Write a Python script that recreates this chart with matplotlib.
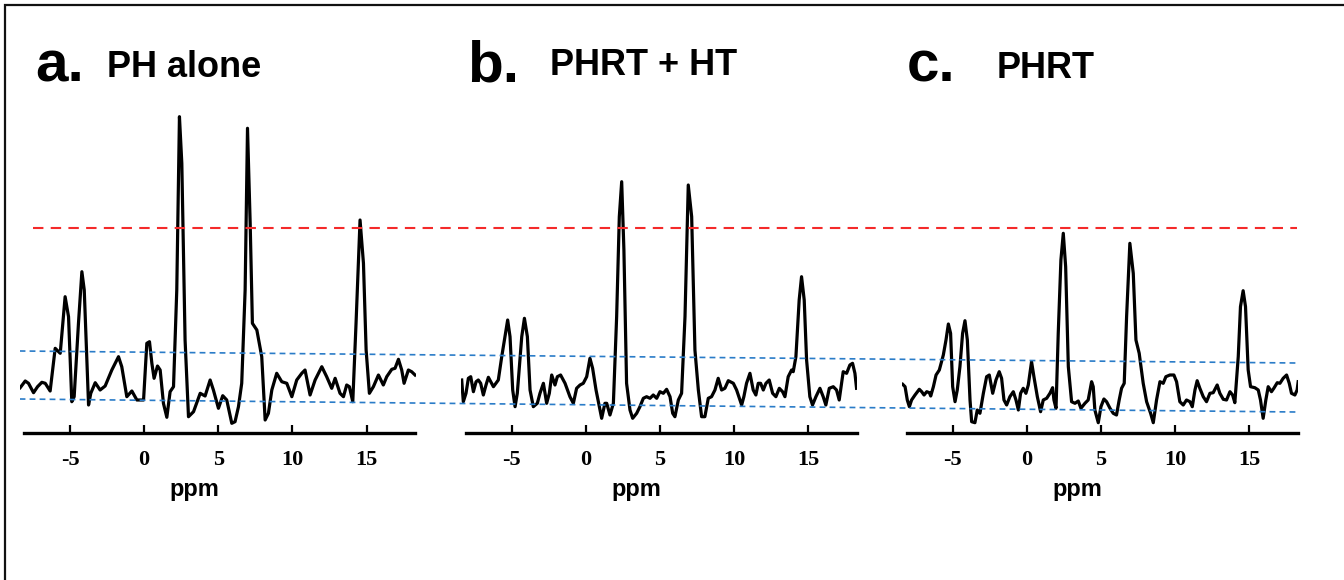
import numpy as np
import matplotlib
matplotlib.use("Agg")
import matplotlib.pyplot as plt
from matplotlib.patches import Rectangle

# spectra (ppm, intensity in a.u.)
ppm_a = [-8.36, -8.02, -7.80, -7.46, -7.19, -6.90, -6.67, -6.34, -6.00, -5.66, -5.33, -5.10,
         -4.88, -4.72, -4.43, -4.20, -4.04, -3.75, -3.60, -3.30, -2.97, -2.63, -2.18, -1.73,
         -1.51, -1.17, -0.83, -0.49, -0.04, 0.18, 0.36, 0.52, 0.67, 0.90, 1.08, 1.30, 1.53,
         1.75, 1.98, 2.20, 2.38, 2.54, 2.76, 2.99, 3.33, 3.78, 4.11, 4.45, 4.67, 5.01, 5.30,
         5.57, 5.91, 6.13, 6.36, 6.58, 6.81, 6.97, 7.15, 7.30, 7.60, 7.93, 8.16, 8.38, 8.61,
         8.94, 9.28, 9.62, 9.96, 10.29, 10.63, 10.85, 11.19, 11.53, 11.98, 12.31, 12.65,
         12.88, 13.21, 13.44, 13.66, 13.84, 14.07, 14.29, 14.56, 14.79, 14.97, 15.19, 15.46,
         15.80, 16.13, 16.36, 16.70, 16.92, 17.15, 17.37, 17.53, 17.82, 18.04, 18.27]
int_a = [45.3, 52.0, 49.7, 40.3, 46.3, 50.7, 49.7, 42.0, 84.7, 79.7, 136.3, 116.3,
         31.3, 36.3, 109.7, 161.3, 143.0, 28.0, 39.7, 50.3, 43.0, 47.0, 63.0, 76.3,
         66.3, 36.3, 42.0, 33.0, 33.0, 89.7, 91.3, 69.7, 54.7, 67.0, 63.0, 29.7, 15.7,
         41.3, 46.3, 143.0, 316.3, 269.7, 93.0, 16.3, 21.3, 39.7, 37.0, 53.0, 43.0, 24.7, 37.3,
         33.0, 9.7, 11.3, 26.3, 49.7, 143.0, 304.7, 209.7, 109.7, 103.0, 76.3, 13.0, 19.7, 43.0,
         59.7, 51.3, 49.7, 36.3, 53.0, 59.7, 63.0, 38.0, 53.0, 66.3, 56.3, 44.7,
         54.7, 39.7, 36.3, 48.0, 46.3, 31.3, 109.7, 213.0, 169.7, 83.0, 39.7, 46.3,
         58.0, 48.0, 56.3, 63.7, 64.7, 73.7, 63.0, 49.7, 63.0, 61.3, 58.0]

ppm_b = [-8.36, -8.25, -8.07, -7.91, -7.75, -7.57, -7.39, -7.24, -7.08, -6.90, -6.72, -6.56,
         -6.40, -6.22, -5.89, -5.66, -5.44, -5.26, -5.10, -4.92, -4.76, -4.61, -4.31, -4.13,
         -3.93, -3.75, -3.53, -3.26, -3.08, -2.85, -2.63, -2.45, -2.29, -2.07, -1.91, -1.69,
         -1.39, -1.06, -0.83, -0.61, -0.38, -0.16, 0.07, 0.29, 0.47, 0.70, 0.92, 1.08, 1.30,
         1.42, 1.64, 1.87, 2.09, 2.27, 2.43, 2.58, 2.76, 2.99, 3.17, 3.44, 3.66, 3.89, 4.11,
         4.34, 4.56, 4.79, 5.01, 5.24, 5.46, 5.69, 5.87, 6.02, 6.25, 6.47, 6.70, 6.92, 7.15,
         7.37, 7.60, 7.82, 8.04, 8.27, 8.49, 8.72, 8.94, 9.17, 9.39, 9.62, 9.96, 10.18, 10.52,
         10.67, 10.85, 11.08, 11.30, 11.48, 11.64, 11.80, 11.98, 12.16, 12.38, 12.61, 12.83,
         13.06, 13.28, 13.44, 13.66, 13.89, 14.00, 14.18, 14.40, 14.56, 14.74, 14.90, 15.12,
         15.30, 15.53, 15.80, 16.02, 16.20, 16.43, 16.70, 16.92, 17.10, 17.37, 17.60, 17.82,
         18.00, 18.16, 18.27]
int_b = [53.0, 31.3, 39.7, 54.7, 56.3, 41.3, 51.3, 53.0, 49.7, 38.0, 48.0, 55.7,
         51.3, 46.3, 53.0, 76.3, 96.3, 113.0, 96.3, 43.0, 26.3, 39.7, 96.3, 114.7,
         96.3, 43.0, 26.3, 29.7, 39.7, 49.7, 29.7, 39.7, 58.0, 48.0, 56.3, 58.0,
         49.7, 36.3, 29.7, 44.7, 48.0, 49.7, 56.3, 74.7, 64.7, 43.0, 26.3, 14.7, 29.7,
         29.7, 18.0, 29.7, 116.3, 216.3, 251.3, 183.0, 49.7, 23.0, 14.7, 19.7, 26.3, 34.7, 36.3,
         34.7, 38.0, 34.7, 41.3, 39.7, 43.7, 36.3, 19.7, 16.3, 33.0, 39.7, 116.3, 248.0, 216.3,
         83.0, 43.0, 16.3, 16.3, 34.7, 36.3, 43.0, 54.7, 43.0, 44.7, 52.3, 49.7, 43.0, 28.0,
         36.3, 49.7, 59.7, 43.0, 38.0, 49.7, 49.7, 43.0, 49.7, 53.0, 39.7, 36.3,
         44.7, 41.3, 36.3, 56.3, 63.0, 61.3, 76.3, 133.0, 156.3, 133.0, 73.0, 36.3,
         28.0, 36.3, 44.7, 36.3, 28.0, 44.7, 46.3, 43.0, 33.0, 61.3, 59.7, 68.0,
         69.7, 59.7, 44.7]

ppm_c = [-8.38, -8.22, -8.07, -7.93, -7.78, -7.55, -7.26, -7.10, -6.94, -6.76, -6.58, -6.49,
         -6.31, -6.13, -5.91, -5.64, -5.46, -5.30, -5.15, -5.01, -4.85, -4.70, -4.52, -4.34,
         -4.18, -4.02, -3.84, -3.73, -3.51, -3.35, -3.17, -2.94, -2.72, -2.54, -2.31, -2.09,
         -1.87, -1.71, -1.55, -1.37, -1.15, -0.92, -0.74, -0.58, -0.43, -0.25, -0.07, 0.09,
         0.31, 0.47, 0.70, 0.92, 1.10, 1.33, 1.55, 1.73, 1.82, 1.96, 2.11, 2.29, 2.45, 2.61,
         2.79, 3.01, 3.24, 3.46, 3.64, 3.91, 4.13, 4.36, 4.47, 4.58, 4.81, 4.99, 5.19, 5.37,
         5.60, 5.82, 6.04, 6.22, 6.38, 6.56, 6.72, 6.94, 7.17, 7.35, 7.57, 7.84, 8.07, 8.34,
         8.52, 8.74, 8.97, 9.19, 9.37, 9.64, 9.91, 10.09, 10.31, 10.54, 10.76, 10.99, 11.15,
         11.33, 11.48, 11.66, 11.89, 12.11, 12.34, 12.56, 12.83, 13.01, 13.24, 13.46, 13.69,
         13.87, 14.02, 14.25, 14.40, 14.58, 14.74, 14.92, 15.08, 15.37, 15.60, 15.75, 15.93,
         16.11, 16.27, 16.49, 16.65, 16.88, 17.06, 17.28, 17.51, 17.69, 17.84, 18.07, 18.22,
         18.29]
int_c = [48.7, 46.3, 33.0, 26.3, 33.0, 38.0, 43.7, 41.3, 38.0, 41.3, 40.3, 37.0,
         46.3, 58.0, 63.0, 78.0, 93.0, 109.0, 99.7, 46.3, 31.3, 43.0, 66.3, 99.7,
         112.3, 93.0, 33.0, 11.3, 10.3, 23.0, 19.7, 39.7, 56.3, 58.0, 39.7, 53.0,
         61.3, 54.7, 33.0, 28.0, 36.3, 41.3, 33.0, 23.0, 39.7, 44.7, 39.7, 48.0,
         71.3, 56.3, 36.3, 21.3, 33.0, 34.7, 39.7, 45.3, 33.0, 24.7, 99.7, 173.0, 199.7, 166.3,
         66.3, 31.3, 29.7, 32.0, 24.7, 29.7, 33.0, 51.3, 46.3, 23.0, 10.3, 26.3, 34.0, 31.3,
         24.7, 19.7, 18.0, 33.0, 44.7, 49.7, 116.3, 189.7, 159.7, 93.0, 79.7, 49.7, 31.3, 19.7,
         10.3, 33.0, 51.3, 49.7, 56.3, 58.0, 58.0, 51.3, 31.3, 28.0, 33.0, 31.3, 26.3,
         43.0, 52.3, 44.7, 36.3, 31.3, 39.7, 40.3, 48.0, 39.7, 33.7, 33.0, 41.3,
         38.0, 30.3, 76.3, 126.3, 142.3, 126.3, 63.0, 46.3, 45.3, 43.0, 33.0, 14.7,
         33.0, 46.3, 41.3, 44.7, 50.3, 49.7, 54.7, 58.0, 49.7, 39.7, 38.0, 43.0,
         51.3]

spectra = [(ppm_a, int_a), (ppm_b, int_b), (ppm_c, int_c)]
letters = ["a.", "b.", "c."]
titles = ["PH alone", "PHRT + HT", "PHRT"]
ticks = [-5, 0, 5, 10, 15]

# reference levels (left end, right end)
red_level = 205
blue_upper = [82, 70]
blue_lower = [34, 21]

W, H = 1344, 580
fig = plt.figure(figsize=(W / 100, H / 100), dpi=100)

# frame around the figure (only top and left visible)
fig.patches.append(Rectangle((5 / W, -0.5), 2.0, 1.5 - 5 / H, transform=fig.transFigure,
                             fill=False, edgecolor="#111111", lw=1.6))

lefts = [19.6, 461.1, 902.4]
bottom = (H - 433) / H
height = 333 / H
width = 395.9 / W
xlim = (-8.4, 18.3)
ylim = (0, 333)

for i, (x, y) in enumerate(spectra):
    ax = fig.add_axes([lefts[i] / W, bottom, width, height])
    ax.plot(x, y, color="black", lw=2.3, solid_joinstyle="round")
    ax.set_xlim(*xlim)
    ax.set_ylim(*ylim)
    for s in ["left", "top", "right"]:
        ax.spines[s].set_visible(False)
    ax.spines["bottom"].set_linewidth(2.4)
    ax.spines["bottom"].set_bounds(-8.1, 18.3)
    ax.set_yticks([])
    ax.set_xticks(ticks)
    ax.set_xticklabels([str(t) for t in ticks], family="Liberation Serif",
                       fontweight="bold", fontsize=16)
    ax.tick_params(axis="x", direction="in", length=6, width=1.6, pad=12)
    ax.patch.set_alpha(0)
    ax.set_xlabel("ppm", family="Liberation Sans", fontweight="bold", fontsize=17)
    ax.xaxis.set_label_coords((3.4 - xlim[0]) / (xlim[1] - xlim[0]), -0.135)

# overlay for the threshold lines across all panels
ov = fig.add_axes([lefts[0] / W, bottom, (1298.4 - lefts[0]) / W, height])
ov.set_xlim(0, 1)
ov.set_ylim(*ylim)
ov.axis("off")
ov.plot([0.0105, 0.999], [red_level, red_level], color="#f42a2a", lw=1.5,
        dashes=(5, 3.5))
ov.plot([0, 0.998], blue_upper, color="#2a7cc8", lw=1.2, dashes=(3.5, 2.5))
ov.plot([0, 0.998], blue_lower, color="#2a7cc8", lw=1.2, dashes=(3.5, 2.5))

letter_x = [35, 467, 907]
title_x = [107, 550, 997]
title_base = [77, 75, 78]
for i in range(3):
    fig.text(letter_x[i] / W, (H - 82) / H, letters[i], family="Liberation Sans",
             fontweight="bold", fontsize=42, va="baseline", ha="left")
    fig.text(title_x[i] / W, (H - title_base[i]) / H, titles[i], family="Liberation Sans",
             fontweight="bold", fontsize=26, va="baseline", ha="left")

fig.savefig("out.png", dpi=100, facecolor="white")
